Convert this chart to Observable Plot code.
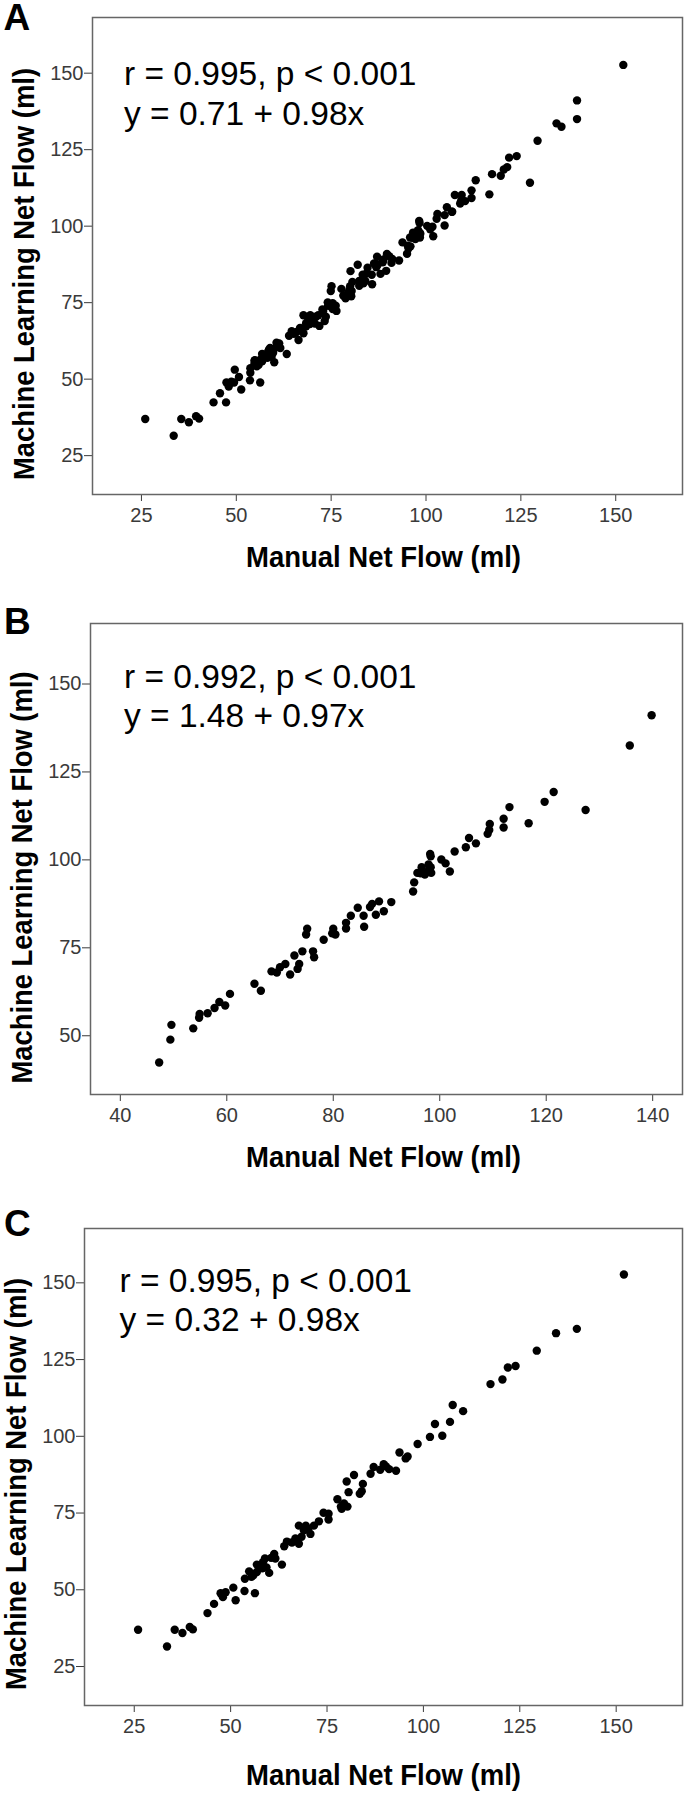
<!DOCTYPE html>
<html><head><meta charset="utf-8">
<script src="https://cdn.jsdelivr.net/npm/d3@7"></script>
<script src="https://cdn.jsdelivr.net/npm/@observablehq/plot@0.6"></script>
<style>
body{margin:0;background:#fff;}
#chart svg{display:block;}
</style></head><body><div id="chart"></div>
<script>
// Panel B: manual vs machine-learning net flow (ml)
const bManual = [139.8,135.7,121.4,119.7,127.4,113.1,116.7,112,112,109.4,109,109.3,105.5,104.9,106.8,102.8,100.3,101.1,101.9,98.2,98.3,97.9,95.8,96.4,97.2,97.8,98.3,98.4,96.6,95.2,95,90.9,88.6,89.5,88,87.3,86.9,84.6,83.3,85.7,85.8,82.4,82.4,80,80.4,79.8,78.2,75.1,74.9,76.2,76.4,74.2,73.6,72.7,73.3,71,70,69.4,68.4,71.9,66.4,65.2,60.6,59.7,58.6,57.7,56.4,54.9,54.8,53.7,49.6,49.4,47.3];
const bMachine = [141.1,132.5,119.3,116.5,114.2,115,110.4,111.7,109.2,110.2,107.4,108.5,106.2,103.6,104.7,102.4,100.1,99,96.7,101.7,101,98.7,96.3,96.2,95.8,96.8,97.9,96.3,97.9,93.6,91,88,88.2,85.4,84.4,87.5,86.6,86.4,84.1,84.1,81,82.1,80.5,80.4,78.8,79.1,77.3,80.4,78.8,74,72.3,74,70.4,72.8,69,70.4,69.5,68,68.3,67.4,62.8,64.8,61.9,58.6,59.6,57.9,56.4,56.2,55.1,52.1,53.1,48.9,42.4];
// Panel C
const cManual = [152.0,139.8,134.4,129.4,123.9,121.9,120.5,117.4,107.6,110.3,106.9,103,104.9,101.7,98.5,93.8,95.4,95.9,92.9,91.1,89.7,88.8,90.3,87.1,86.3,82,80.1,84.3,84,83.5,80.6,77.7,79.4,78.6,80.3,78.8,75.4,74.1,75.4,72.9,71.6,69.5,67.7,69,70.7,70.1,68.4,66.8,67.7,65.9,64.6,63.9,61.3,60.5,61.6,58.9,58.4,56.8,59.3,58.2,56.8,60,63.3,55.9,54.8,53.7,55.4,53.6,56.3,50.7,48,47.4,48.7,51.3,45.7,44,40.2,39.4,37.5,35.5,33.5,26];
const cMachine = [152.7,135.0,133.6,127.9,122.9,122.4,118.5,117.0,110.2,108.2,104.7,104,100.2,99.8,97.5,94.7,92.8,93.4,88.8,89.3,90.9,89.1,90.2,90,87.8,87.4,85.3,84.5,82.1,81.3,81.8,79.5,78.1,77.1,77.1,76.4,74.8,75.1,72.9,72.3,70.9,70.9,70.9,69.4,68.2,69.7,67.3,66.7,65,65.4,65.7,64.2,61.7,60.4,60.2,60.2,59,58.2,57.3,57,55.8,55.5,58.2,54.7,56,53.6,54.2,49.6,48.9,50.7,47.6,48.9,49.2,46.6,45.4,42.4,37.1,37.9,35.9,37,31.5,37];
// Panel A: all cases (B and C together)
const aManual = bManual.concat(cManual);
const aMachine = bMachine.concat(cMachine);

const ticksAC = [25, 50, 75, 100, 125, 150];
const ticksBX = [40, 60, 80, 100, 120, 140];
const ticksBY = [50, 75, 100, 125, 150];

const statsA = ["r = 0.995, p < 0.001", "y = 0.71 + 0.98x"];
const statsB = ["r = 0.992, p < 0.001", "y = 1.48 + 0.97x"];
const statsC = ["r = 0.995, p < 0.001", "y = 0.32 + 0.98x"];

const xTitle = "Manual Net Flow (ml)";
const yTitle = "Machine Learning Net Flow (ml)";

const panels = [
  {letter: "A", x: aManual, y: aMachine, stats: statsA, height: 600,
   m: [17, 3, 106, 92], xDomain: [12.1, 167.6], yDomain: [12.3, 168.2], xTicks: ticksAC, yTicks: ticksAC,
   letterPos: [3, 29.5], statPos: [31.5, 67.5, 107.5], xt: [-4, 72], yt: [-59, 18]},
  {letter: "B", x: bManual, y: bMachine, stats: statsB, height: 594,
   m: [23, 3, 100, 90], xDomain: [34.4, 145.6], yDomain: [33.3, 167.2], xTicks: ticksBX, yTicks: ticksBY,
   letterPos: [3.5, 33.5], statPos: [33.5, 64.5, 103.5], xt: [-3, 72], yt: [-58.6, 18.5]},
  {letter: "C", x: cManual, y: cMachine, stats: statsC, height: 600,
   m: [34, 3, 89, 84], xDomain: [12.1, 167.2], yDomain: [12.3, 167.7], xTicks: ticksAC, yTicks: ticksAC,
   letterPos: [3.5, 41], statPos: [35, 63, 102.5], xt: [0, 79.5], yt: [-59, 17]}
];

const font = "'Liberation Sans', Arial, sans-serif";
const chart = document.getElementById("chart");

for (const p of panels) {
  const data = p.x.map((x, i) => ({x, y: p.y[i]}));
  const [mt, mr, mb, ml] = p.m;
  const svg = Plot.plot({
    width: 685, height: p.height,
    marginTop: mt, marginRight: mr, marginBottom: mb, marginLeft: ml,
    style: {fontFamily: font, fontSize: "20px", color: "#3a3a3a", background: "white", overflow: "visible"},
    x: {domain: p.xDomain, ticks: p.xTicks, tickSize: 7, tickPadding: 6, label: null},
    y: {domain: p.yDomain, ticks: p.yTicks, tickSize: 8, tickPadding: 1, label: null},
    marks: [
      Plot.frame({stroke: "#666", strokeWidth: 1.5}),
      Plot.dot(data, {x: "x", y: "y", r: 4.2, fill: "black", stroke: "none"}),
      Plot.text([p.stats[0]], {text: d => d, frameAnchor: "top-left", textAnchor: "start", lineAnchor: "bottom",
        dx: p.statPos[0], dy: p.statPos[1], fontSize: 33.5, fill: "black"}),
      Plot.text([p.stats[1]], {text: d => d, frameAnchor: "top-left", textAnchor: "start", lineAnchor: "bottom",
        dx: p.statPos[0], dy: p.statPos[2], fontSize: 33.5, fill: "black"}),
      Plot.text([xTitle], {text: d => d, frameAnchor: "bottom", textAnchor: "middle", lineAnchor: "bottom",
        dx: p.xt[0], dy: p.xt[1], fontSize: 30, fontWeight: "bold", fill: "black"}),
      Plot.text([yTitle], {text: d => d, frameAnchor: "left", textAnchor: "middle", lineAnchor: "bottom", rotate: -90,
        dx: p.yt[0], dy: p.yt[1], fontSize: 30, fontWeight: "bold", fill: "black"}),
      Plot.text([p.letter], {text: d => d, frameAnchor: "top-left", textAnchor: "start", lineAnchor: "bottom",
        dx: p.letterPos[0] - ml, dy: p.letterPos[1] - mt, fontSize: 37, fontWeight: "bold", fill: "black"})
    ]
  });
  svg.querySelectorAll("text").forEach(t => {
    if (t.textContent === xTitle) { t.setAttribute("textLength", 275); t.setAttribute("lengthAdjust", "spacingAndGlyphs"); }
    if (t.textContent === yTitle) { t.setAttribute("textLength", 412); t.setAttribute("lengthAdjust", "spacingAndGlyphs"); }
  });
  chart.appendChild(svg);
}
</script></body></html>
